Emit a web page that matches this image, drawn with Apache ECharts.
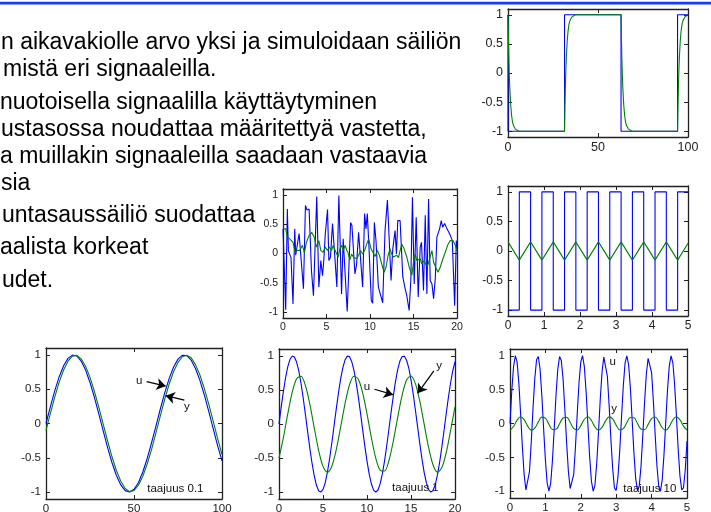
<!DOCTYPE html>
<html><head><meta charset="utf-8">
<script src="https://cdn.jsdelivr.net/npm/echarts@6/dist/echarts.min.js"></script>
<style>html,body{margin:0;padding:0;background:#fff}#c{width:711px;height:512px}</style>
</head><body><div id="c"></div>
<script>
// ---------- DATA ----------
// Panel 1: square wave period ~63, first-order response (tau = 1)
const sq1UT = [0, 0, 31.4, 62.8, 94.2, 100];
const sq1U  = [1, -1, 1, -1, 1, 1];
const sq1YT = [0,0.25,0.5,0.75,1,1.5,2,2.5,3,4,5,6,8,
  31.4,31.65,31.9,32.15,32.4,32.9,33.4,33.9,34.4,35.4,36.4,37.4,39.4,
  62.8,63.05,63.3,63.55,63.8,64.3,64.8,65.3,65.8,66.8,67.8,68.8,70.8,
  94.2,94.45,94.7,94.95,95.2,95.7,96.2,96.7,97.2,98.2,99.2,100];
const sq1Y  = [1,0.56,0.21,-0.06,-0.26,-0.55,-0.73,-0.84,-0.9,-0.96,-0.99,-1,-1,
  -1,-0.56,-0.21,0.06,0.26,0.55,0.73,0.84,0.9,0.96,0.99,1,1,
  1,0.56,0.21,-0.06,-0.26,-0.55,-0.73,-0.84,-0.9,-0.96,-0.99,-1,-1,
  -1,-0.56,-0.21,0.06,0.26,0.55,0.73,0.84,0.9,0.96,0.99,1];

// Panel 2: noise input and filtered output
const noiseUT = [0,0.31,0.5,0.62,0.92,1.15,1.35,1.46,1.65,1.85,2.0,2.35,2.58,2.77,3.0,3.27,3.5,3.88,4.12,4.35,4.54,4.69,4.85,5.12,5.27,5.46,5.69,5.96,6.19,6.42,6.73,6.92,7.12,7.38,7.5,7.77,7.92,8.27,8.46,8.69,8.85,9.15,9.38,9.54,9.69,9.88,10.15,10.31,10.5,10.69,10.96,11.15,11.46,11.73,12.0,12.15,12.42,12.62,12.88,13.04,13.19,13.46,13.77,14.04,14.23,14.5,14.69,14.88,15.08,15.31,15.54,15.77,15.92,16.15,16.35,16.54,16.73,16.92,17.12,17.31,17.5,17.69,18.0,18.19,18.35,18.58,18.85,19.23,19.46,19.73,19.92,20];
const noiseU  = [0.42,-0.96,0.76,0.05,-0.07,-0.86,0.42,-0.03,-0.03,0.34,0.36,-0.6,0.82,0.74,0.76,-0.29,-0.72,0.97,-0.57,-0.12,-0.38,-0.12,0.31,0.75,-0.12,-0.06,0.51,-0.06,-0.57,0.99,-0.69,0.25,0.25,-0.99,-1.0,0.53,0.48,-0.35,-0.18,0.36,0.36,-0.57,0.68,0.42,0.68,0.11,-0.8,-0.85,0.53,0.22,-0.57,-0.57,-0.84,0.39,0.91,0.88,-0.46,0.08,0.39,-0.01,0.56,0.56,-0.4,-0.6,-0.72,-0.97,-0.46,0.96,-0.52,0.62,-0.74,0.11,0.19,-0.63,0.65,-0.69,0.93,-0.46,-0.52,-0.77,-0.43,0.28,0.42,0.56,0.45,0.51,0.42,0.31,0.22,-0.89,0.22,0.05];
const noiseYT = [0,0.31,0.5,0.77,1.15,1.38,1.62,1.92,2.23,2.46,2.69,3.0,3.31,3.58,3.85,4.12,4.35,4.62,4.85,5.12,5.31,5.58,5.77,6.08,6.35,6.54,6.73,6.92,7.15,7.31,7.46,7.69,7.88,8.15,8.46,8.69,8.92,9.15,9.38,9.62,9.85,10.12,10.31,10.58,10.85,11.08,11.35,11.62,11.85,12.08,12.31,12.5,12.69,12.88,13.08,13.27,13.46,13.65,13.92,14.23,14.5,14.81,15.0,15.19,15.38,15.58,15.77,15.96,16.23,16.42,16.65,16.85,17.12,17.31,17.54,17.81,18.08,18.38,18.65,18.92,19.23,19.54,19.81,20];
const noiseY  = [0.42,0.42,0.28,0.25,0.19,0.03,0.05,0.05,0.14,0.01,0.19,0.31,0.36,0.28,0.11,0.22,0.05,0.02,0.11,0.05,0.11,0.05,0.14,0.02,-0.06,0.08,0.14,0.05,0.14,0.06,0.02,-0.11,-0.01,-0.07,-0.09,-0.03,0.05,-0.01,0.05,0.16,0.25,0.08,0.06,-0.05,0.05,-0.03,-0.18,-0.32,-0.23,-0.03,0.08,-0.01,-0.06,-0.09,-0.03,-0.07,0.05,0.16,0.08,-0.06,-0.23,-0.37,-0.15,-0.01,-0.12,-0.15,-0.09,-0.18,-0.12,-0.19,-0.2,-0.09,0.05,-0.15,-0.23,-0.32,-0.23,-0.09,0.02,0.14,0.22,0.22,0.14,0.05];

// Panel 3: fast square wave and triangular response
const sqFastT = [0,0.314,0.628,0.942,1.257,1.571,1.885,2.199,2.513,2.827,3.142,3.456,3.770,4.084,4.398,4.712,5];
const sqFastU = [-1,1,-1,1,-1,1,-1,1,-1,1,-1,1,-1,1,-1,1,1];
const sqFastY = [0.155,-0.155,0.155,-0.155,0.155,-0.155,0.155,-0.155,0.155,-0.155,0.155,-0.155,0.155,-0.155,0.155,-0.155,0.13];

// Panel 4: frequency 0.1 (sample step 2.5)
const step4 = 2.5;
const sin4U = [0,0.247,0.479,0.682,0.841,0.949,0.997,0.984,0.909,0.778,0.598,0.382,0.141,-0.108,-0.351,-0.572,-0.757,-0.895,-0.978,-0.999,-0.959,-0.863,-0.706,-0.510,-0.279,-0.033,0.215,0.450,0.657,0.823,0.938,0.995,0.989,0.922,0.798,0.625,0.412,0.174,-0.075,-0.321,-0.544];
const sin4Y = [-0.099,0.149,0.388,0.602,0.779,0.908,0.981,0.992,0.941,0.833,0.672,0.469,0.237,-0.009,-0.255,-0.485,-0.685,-0.841,-0.947,-0.993,-0.977,-0.900,-0.768,-0.590,-0.376,-0.132,0.116,0.357,0.576,0.757,0.890,0.973,0.993,0.958,0.854,0.703,0.507,0.279,0.033,-0.216,-0.455];

// Panel 5: frequency 1
const step5U = 0.25, step5Y = 0.5;
const sin5U = [0,0.247,0.479,0.682,0.841,0.949,0.997,0.984,0.909,0.778,0.598,0.382,0.141,-0.108,-0.351,-0.572,-0.757,-0.895,-0.978,-0.999,-0.959,-0.863,-0.706,-0.510,-0.279,-0.033,0.215,0.450,0.657,0.823,0.938,0.995,0.989,0.922,0.798,0.625,0.412,0.174,-0.075,-0.321,-0.544,
  -0.735,-0.880,-0.970,-1.000,-0.968,-0.875,-0.729,-0.537,-0.311,-0.066,0.183,0.420,0.632,0.804,0.926,0.991,0.994,0.935,0.818,0.650,0.442,0.206,-0.042,-0.288,-0.516,-0.712,-0.864,-0.961,-1.000,-0.976,-0.892,-0.751,-0.565,-0.343,-0.099,0.150,0.390,0.605,0.783,0.913];
const sin5Y = [-0.500,-0.199,0.151,0.464,0.663,0.700,0.565,0.293,-0.052,-0.384,-0.622,-0.707,-0.619,-0.381,-0.048,0.296,0.568,0.700,0.661,0.460,0.147,-0.203,-0.503,-0.679,-0.690,-0.532,-0.243,0.105,0.427,0.645,0.705,0.592,0.334,-0.005,-0.344,-0.598,-0.706,-0.640,-0.420,-0.095,0.253];

// Panel 6: frequency 10
const step6U = 0.05, step6Y = 0.1;
const sin6U = [0,0.48,0.84,1.00,0.91,0.60,0.14,-0.35,-0.76,-0.98,-0.96,-0.71,-0.28,0.22,0.66,0.94,0.99,0.80,0.41,-0.08,-0.54,-0.88,-1.00,-0.88,-0.54,-0.07,0.42,0.80,0.99,0.93,0.65,0.20,-0.29,-0.71,-0.96,-0.98,-0.75,-0.34,0.15,0.61,0.91,1.00,0.84,0.47,-0.01,-0.49,-0.85,-1.00,-0.91,-0.59,-0.13,0.36,0.76,0.98,0.96,0.70,0.27,-0.23,-0.66,-0.95,-0.99,-0.79,-0.40,0.09,0.55,0.89,1.00,0.87,0.53,0.06,-0.43,-0.81,-0.99,-0.93,-0.64,-0.19,0.30,0.72,0.96,0.97,0.75,0.33,-0.16,-0.62,-0.92,-1.00,-0.83,-0.46,0.02,0.50,0.85,1.00,0.90,0.58,0.12,-0.37,-0.77,-0.98,-0.95,-0.69,-0.26];
const sin6Y = [-0.099,-0.045,0.050,0.099,0.058,-0.038,-0.098,-0.068,0.024,0.094,0.078,-0.010,-0.089,-0.086,-0.004,0.082,0.092,0.018,-0.073,-0.096,-0.031,0.063,0.099,0.044,-0.051,-0.099,-0.057,0.038,0.098,0.068,-0.025,-0.095,-0.077,0.011,0.089,0.085,0.003,-0.082,-0.092,-0.017,0.073,0.096,0.031,-0.063,-0.099,-0.044,0.052,0.099,0.056,-0.039,-0.098];

const yTicks = [-1, -0.5, 0, 0.5, 1];

const textLines = [
  'n aikavakiolle arvo yksi ja simuloidaan säiliön',
  'mistä eri signaaleilla.',
  'nuotoisella signaalilla käyttäytyminen',
  'ustasossa noudattaa määritettyä vastetta,',
  'a muillakin signaaleilla saadaan vastaavia',
  'sia',
  'untasaussäiliö suodattaa',
  'aalista korkeat',
  'udet.'
];

// ---------- BUILD ----------
const FONT = '"Liberation Sans", Arial, sans-serif';
const BLUE = '#0000ff', GREEN = '#008000', AX = '#222';
const zip = (xs, ys) => xs.map((x, i) => [x, ys[i]]);
const stepped = (step, ys) => ys.map((y, i) => [i * step, y]);

const panels = [
  {grid:{left:508, top:9, width:180, height:128}, x:[0,100,50], fs:12.5, xm:4,
   u: zip(sq1UT, sq1U), uStep:'end', y: zip(sq1YT, sq1Y)},
  {grid:{left:283, top:189, width:174, height:129}, x:[0,20,5], fs:10.5, xm:4,
   u: zip(noiseUT, noiseU), y: zip(noiseYT, noiseY)},
  {grid:{left:508, top:186, width:180, height:130}, x:[0,5,1], fs:12, xm:4,
   u: zip(sqFastT, sqFastU), uStep:'end', y: zip(sqFastT, sqFastY)},
  {grid:{left:46, top:348, width:176, height:151}, x:[0,100,50], fs:11.5, xm:4,
   u: stepped(step4, sin4U), y: stepped(step4, sin4Y),
   notes:[{t:'u', c:[53,0.62]},{t:'y', c:[80,0.25]},{t:'taajuus 0.1', c:[73.5,-0.945]}],
   arrows:[[[57.2,0.61],[68,0.545]],[[78.6,0.34],[68,0.405]]]},
  {grid:{left:279, top:349, width:176, height:150}, x:[0,20,5], fs:11.5, xm:4,
   u: stepped(step5U, sin5U), y: stepped(step5Y, sin5Y), ySmooth:0.3,
   notes:[{t:'u', c:[10,0.54]},{t:'y', c:[18.2,0.86]},{t:'taajuus 1', c:[15.5,-0.94]}],
   arrows:[[[10.85,0.51],[12.95,0.43]],[[17.6,0.78],[15.75,0.45]]]},
  {grid:{left:510, top:349, width:177, height:149}, x:[0,5,1], fs:11.5, xm:4,
   u: stepped(step6U, sin6U), y: stepped(step6Y, sin6Y), ySmooth:0.4,
   notes:[{t:'u', c:[2.9,0.91]},{t:'y', c:[2.94,0.21]},{t:'taajuus 10', c:[3.95,-0.97]}]}
];

const grid = [], xAxis = [], yAxis = [], series = [];
panels.forEach((p, i) => {
  grid.push(Object.assign({containLabel:false, outerBoundsMode:'none', show:false}, p.grid));
  const line = {show:true, onZero:false, lineStyle:{color:AX, width:1.3}};
  const tick = {show:true, inside:true, length:4, lineStyle:{color:AX, width:1}};
  const lab = {fontSize:p.fs, color:AX, fontFamily:FONT};
  xAxis.push({type:'value', gridIndex:i, position:'bottom', min:p.x[0], max:p.x[1], interval:p.x[2],
    axisLine:line, axisTick:tick, splitLine:{show:false}, axisLabel:Object.assign({margin:p.xm}, lab)});
  xAxis.push({type:'value', gridIndex:i, position:'top', min:p.x[0], max:p.x[1], interval:p.x[2],
    axisLine:line, axisTick:tick, splitLine:{show:false}, axisLabel:{show:false}});
  yAxis.push({type:'value', gridIndex:i, position:'left', min:-1.1, max:1.1,
    axisLine:line, axisTick:Object.assign({customValues:yTicks}, tick), splitLine:{show:false},
    axisLabel:Object.assign({margin:5, customValues:yTicks, formatter:v=>String(v)}, lab)});
  yAxis.push({type:'value', gridIndex:i, position:'right', min:-1.1, max:1.1,
    axisLine:line, axisTick:Object.assign({customValues:yTicks}, tick), splitLine:{show:false},
    axisLabel:{show:false}});
  const base = {type:'line', xAxisIndex:2*i, yAxisIndex:2*i, symbol:'none', showSymbol:false,
    animation:false, silent:true, clip:true};
  series.push(Object.assign({}, base, {data:p.u, step:p.uStep || false,
    lineStyle:{color:BLUE, width:1.1}, itemStyle:{color:BLUE}}));
  const ys = Object.assign({}, base, {data:p.y, smooth:p.ySmooth || false,
    lineStyle:{color:GREEN, width:1.1}, itemStyle:{color:GREEN}});
  if (p.notes) {
    ys.markPoint = {symbol:'rect', symbolSize:1, silent:true, animation:false,
      itemStyle:{color:'rgba(0,0,0,0)'},
      label:{show:true, position:'inside', color:'#111', fontSize:11.5, fontFamily:FONT,
        formatter:q=>q.name},
      data:p.notes.map(n=>({name:n.t, coord:n.c}))};
  }
  if (p.arrows) {
    ys.markLine = {silent:true, animation:false, symbol:['none','arrow'], symbolSize:9,
      lineStyle:{color:'#000', width:1.2, type:'solid'}, itemStyle:{color:'#000'}, label:{show:false},
      emphasis:{disabled:true},
      data:p.arrows.map(a=>[{coord:a[0]},{coord:a[1]}])};
  }
  series.push(ys);
});

const baselines = [43, 70, 103, 130, 157, 184, 216, 248, 281];
const xs = [1, 3, 0, 1, 0, 1, 2, 0, 2];
const graphic = [{type:'rect', shape:{x:0, y:1.8, width:711, height:2.6}, style:{fill:'#1438ff'}, silent:true}];
textLines.forEach((t, i) => graphic.push({type:'text', x:xs[i], y:baselines[i], silent:true,
  style:{text:t, font:'23px ' + FONT, fill:'#000', verticalAlign:'middle', align:'left'}}));

const chart = echarts.init(document.getElementById('c'), null, {renderer:'canvas'});
chart.setOption({backgroundColor:'#fff', animation:false, grid, xAxis, yAxis, series, graphic});
</script></body></html>
